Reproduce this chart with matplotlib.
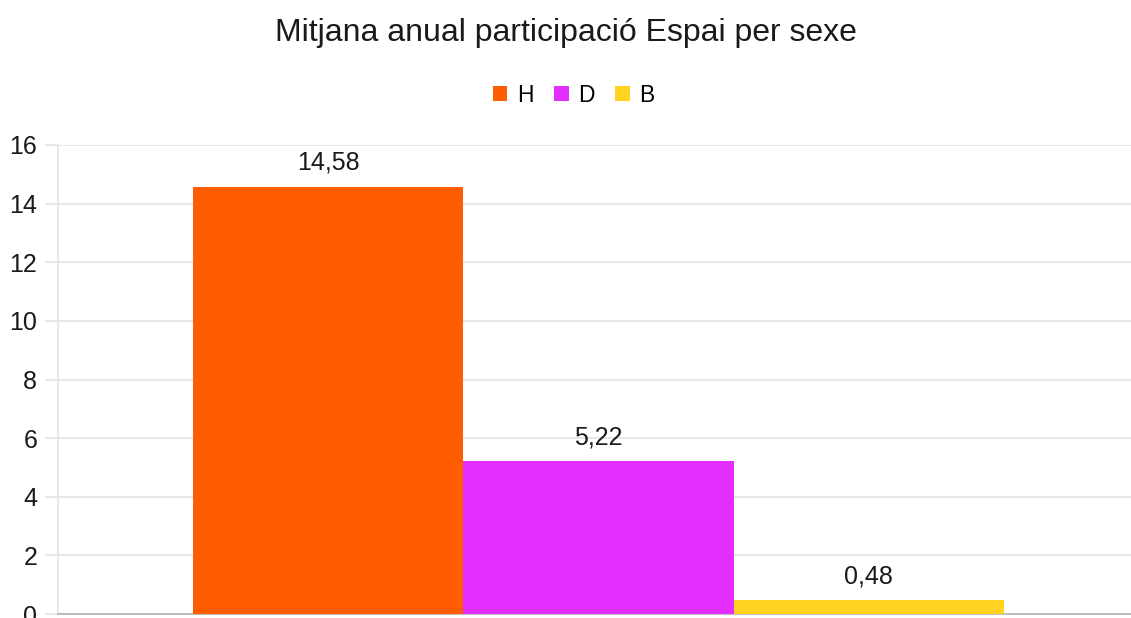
import matplotlib.pyplot as plt

series = ["H", "D", "B"]
values = [14.58, 5.22, 0.48]
labels = ["14,58", "5,22", "0,48"]
colors = ["#FF5C00", "#E22EFF", "#FFD320"]
yticks = [0, 2, 4, 6, 8, 10, 12, 14, 16]

plt.rcParams['font.family'] = ['Liberation Sans', 'DejaVu Sans']

fig = plt.figure(figsize=(11.31, 6.18), dpi=100)
ax = fig.add_axes([58 / 1131, 4 / 618, 1081 / 1131, 469 / 618])

w = 0.25
for i, (s, v, lab, c) in enumerate(zip(series, values, labels, colors)):
    x = (i - 1) * w
    ax.bar(x, v, width=w, color=c, label=s, zorder=3)
    ax.text(x, v + 0.4, lab, ha="center", va="bottom", fontsize=18, color="#1a1a1a")

ax.set_xlim(-0.5, 0.5)
ax.set_ylim(0, 16)
ax.set_yticks(yticks)
ax.set_yticklabels([str(t) for t in yticks], fontsize=18, color="#1a1a1a")
ax.set_xticks([])
ax.grid(axis="y", color="#E3E3E3", linewidth=1.2, zorder=0)
ax.tick_params(axis="y", length=9.5, color="#E3E3E3", width=1.2, pad=5.5)
for sp in ["top", "right"]:
    ax.spines[sp].set_visible(False)
ax.spines["left"].set_color("#E3E3E3")
ax.spines["left"].set_linewidth(1.2)
ax.spines["bottom"].set_color("#B3B3B3")
ax.spines["bottom"].set_linewidth(1.2)

fig.text(0.5, 1 - 33 / 618, "Mitjana anual participació Espai per sexe",
         ha="center", va="center", fontsize=23, color="#1a1a1a")
fig.legend(loc="center", bbox_to_anchor=(0.507, 1 - 95 / 618), ncol=3, frameon=False,
           fontsize=16.5, handlelength=0.65, handleheight=0.65, handletextpad=0.4,
           columnspacing=0.9)

fig.savefig("out.png", dpi=100)
